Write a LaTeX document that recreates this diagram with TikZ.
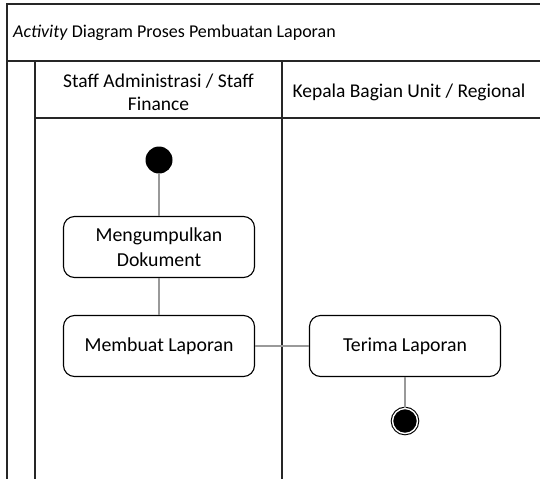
\documentclass[tikz,border=0pt]{standalone}
\usepackage{fontspec}
\setmainfont{Carlito}
\begin{document}
\begin{tikzpicture}[x=1pt,y=-1pt,
  frameline/.style={line width=1.4pt,draw=black!85},
  flow/.style={line width=1.2pt,draw=black!40},
  action/.style={draw=black,line width=1.1pt,rounded corners=11pt,fill=white,
    minimum width=191pt,minimum height=61pt,align=center,inner sep=2pt,
    font=\fontsize{19.8}{25}\selectfont},
  lanehead/.style={align=center,font=\fontsize{19.5}{23}\selectfont},
  startnode/.style={circle,fill=black,minimum size=27pt,inner sep=0pt},
  endnode/.style={circle,fill=black,draw=black,line width=1.1pt,double=white,
    double distance=1.4pt,minimum size=25pt,inner sep=0pt}]
\useasboundingbox (0,0) rectangle (540,479);
\fill[white] (0,0) rectangle (540,479);

% swimlane frame
\draw[frameline] (540,4) -- (7,4) -- (7,479);
\draw[frameline] (7,61) -- (540,61);
\draw[frameline] (35,61) -- (35,479);
\draw[frameline] (282,61) -- (282,479);
\draw[frameline] (35,118) -- (540,118);

% title and lane headers
\node[anchor=west,inner sep=0pt,font=\fontsize{18}{22}\selectfont] (title) at (13,33)
  {\textit{Activity} Diagram Proses Pembuatan Laporan};
\node[lanehead] (laneA) at (158.5,92) {Staff Administrasi / Staff\\Finance};
\node[lanehead] (laneB) at (409,92) {Kepala Bagian Unit / Regional};

% activities
\node[startnode] (start) at (159,160) {};
\node[action] (kumpul) at (159,247) {Mengumpulkan\\Dokument};
\node[action] (buat) at (159,346) {Membuat Laporan};
\node[action] (terima) at (405,346) {Terima Laporan};
\node[endnode] (finish) at (405,421) {};

% flows
\draw[flow] (start) -- (kumpul);
\draw[flow] (kumpul) -- (buat);
\draw[flow] (buat) -- (terima);
\draw[flow] (terima) -- (finish);
\end{tikzpicture}
\end{document}
